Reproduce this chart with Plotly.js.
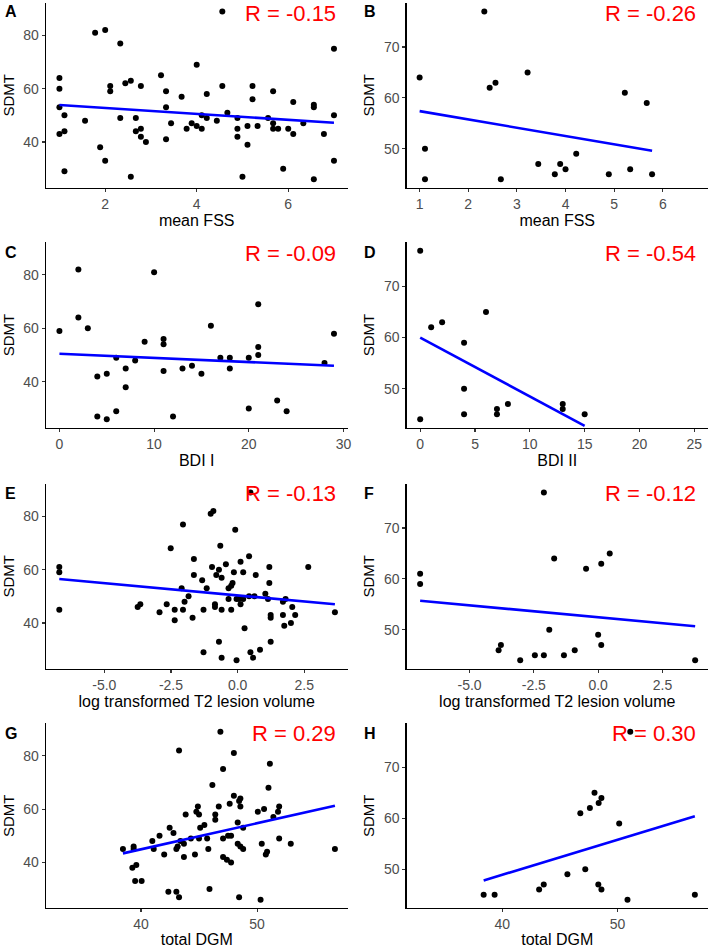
<!DOCTYPE html>
<html>
<head>
<meta charset="utf-8">
<script src="https://cdn.plot.ly/plotly-3.0.1.min.js"></script>
<style>html,body{margin:0;padding:0;background:#fff;}#chart{width:711px;height:948px;}</style>
</head>
<body>
<div id="chart"></div>
<script>
// ---- Data ----
// Panel A: mean FSS vs SDMT
const fssA = [1,1,1,1,1.11,1.11,1.11,1.56,1.78,2,1.89,2,2.11,2.11,2.33,2.33,2.44,2.56,2.56,2.78,2.67,2.67,2.78,2.78,2.89,3.22,3.33,3.33,3.33,3.44,3.67,3.78,3.89,4,4,4.11,4.11,4.22,4.22,4.44,4.56,4.56,4.67,4.89,4.89,4.89,5,5.11,5.11,5.22,5.22,5.33,5.56,5.67,5.67,5.67,5.78,5.89,6,6.11,6.11,6.33,6.56,6.56,6.56,6.78,7,7,7];
const sdmtA = [64,60,53,43,50,44,29,48,81,82,38,33,61,59,77,49,62,63,27,61,49,44,45,42,40,65,59,53,41,47,57,45,47,69,46,45,50,58,49,48,89,61,51,49,45,42,27,46,39,61,56,46,49,59,47,45,45,30,45,55,43,47,54,53,26,43,75,50,33];
const fitAx = [1, 7], fitAy = [53.9, 47.2];

// Panel B: mean FSS vs SDMT
const fssB = [1,1.11,1.11,2.33,2.44,2.56,2.67,3.22,3.44,3.78,3.89,4,4.22,4.89,5.22,5.33,5.67,5.78];
const sdmtB = [64,50,44,77,62,63,44,65,47,45,47,46,49,45,61,46,59,45];
const fitBx = [1, 5.78], fitBy = [57.4, 49.6];

// Panel C: BDI I vs SDMT
const bdiC = [0,2,2,3,4,4,5,5,6,6,7,7,8,9,10,11,11,11,12,13,14,15,16,17,18,18,20,20,21,21,21,23,24,28,29];
const sdmtC = [59,82,64,60,42,27,43,26,49,29,45,38,48,55,81,56,54,44,27,45,46,43,61,49,49,45,49,30,69,53,50,33,29,47,58];
const fitCx = [0, 29], fitCy = [50.5, 46.0];

// Panel D: BDI II vs SDMT
const bdiD = [0,0,1,2,4,4,4,6,7,7,8,13,13,15];
const sdmtD = [77,44,62,63,59,50,45,65,46,45,47,47,46,45];
const fitDx = [0, 15], fitDy = [60.0, 42.7];

// Panel E: log T2 lesion volume vs SDMT
const lesE = [-6.69,-6.69,-6.69,-3.75,-3.65,-2.93,-2.66,-2.51,-2.36,-2.36,-2.10,-2.05,-2.05,-1.99,-1.84,-1.69,-1.64,-1.64,-1.33,-1.28,-1.28,-1.16,-1.01,-0.91,-0.96,-0.85,-0.85,-0.80,-0.70,-0.70,-0.65,-0.60,-0.60,-0.60,-0.44,-0.34,-0.34,-0.24,-0.24,-0.19,-0.14,-0.09,-0.04,-0.04,0.06,0.11,0.11,0.21,0.21,0.26,0.43,0.43,0.48,0.48,0.58,0.63,0.68,0.84,1.04,1.14,1.19,1.19,1.24,1.24,1.24,1.70,1.70,1.75,1.80,2.0,2.05,2.16,2.65,3.65];
const sdmtE = [61,59,45,46,47,44,47,68,45,41,53,77,45,48,50,42,64,58,56,45,29,53,81,82,61,47,46,58,60,33,69,57,45,27,62,53,49,45,54,55,59,75,26,49,49,63,47,59,49,38,65,50,29,89,27,50,58,30,51,49,61,55,43,42,33,48,43,39,49,40,46,43,61,44];
const fitEx = [-6.69, 3.65], fitEy = [56.5, 47.0];

// Panel F: log T2 lesion volume vs SDMT
const lesF = [-6.92,-6.92,-3.87,-3.78,-3.03,-2.46,-2.11,-2.11,-1.9,-1.71,-1.33,-0.91,-0.47,0,0.12,0.12,0.45,3.77];
const sdmtF = [61,59,46,47,44,45,77,45,50,64,45,46,62,49,63,47,65,44];
const fitFx = [-6.92, 3.77], fitFy = [55.7, 50.7];

// Panel G: total DGM vs SDMT
const dgmG = [38.45,39.37,39.37,39.26,39.6,39.5,40.06,40.98,41.1,41.6,42.0,42.36,42.47,42.8,43.05,43.05,43.16,43.28,43.28,43.4,43.7,43.85,43.7,44.3,44.65,44.77,44.9,45.0,45.0,45.1,45.46,45.7,45.8,45.9,46.15,46.4,46.4,46.7,46.84,47.07,47.07,47.07,47.4,47.5,47.64,47.76,47.76,48.0,48.0,48.33,48.33,48.45,48.45,48.56,48.56,48.56,48.8,48.8,50.06,50.3,50.4,50.6,50.75,50.86,50.98,51.1,51.4,51.8,51.9,51.9,52.9,56.7];
const sdmtG = [45,46,45,38,39,33,33,48,45,50,43,29,53,51,29,45,46,27,82,48,47,58,42,49,43,59,61,58,49,53,54,49,45,30,69,58,56,61,89,49,42,75,41,50,62,40,50,81,65,47,55,63,27,64,61,46,45,53,59,26,47,60,43,44,68,77,57,59,61,49,47,45];
const fitGx = [38.45, 56.7], fitGy = [43.4, 61.25];

// Panel H: total DGM vs SDMT
const dgmH = [38.39,39.34,43.2,43.6,45.65,46.77,47.2,47.6,48.0,48.33,48.36,48.6,48.6,50.14,50.86,51.1,56.7];
const sdmtH = [45,45,46,47,49,61,50,62,65,47,63,64,46,59,44,77,45];
const fitHx = [38.39, 56.7], fitHy = [47.8, 60.4];

const letters = ['A','B','C','D','E','F','G','H'];
const rLabels = ['R = -0.15','R = -0.26','R = -0.09','R = -0.54','R = -0.13','R = -0.12','R = 0.29','R = 0.30'];
const xTitles = ['mean FSS','mean FSS','BDI I','BDI II','log transformed T2 lesion volume','log transformed T2 lesion volume','total DGM','total DGM'];
const yTitle = 'SDMT';

// ---- Layout geometry (pixels) ----
const W = 711, H = 948;
const colX = [[45.7, 347.7], [406.5, 708]];
const rowY = [[3, 187.7], [242.3, 427.7], [484, 668.7], [723.3, 908.2]];
const rLabelRight = [338, 698.3];
const rLabelMid = [13.5, 254, 494, 733.7];

const xs = [fssA, fssB, bdiC, bdiD, lesE, lesF, dgmG, dgmH];
const ys = [sdmtA, sdmtB, sdmtC, sdmtD, sdmtE, sdmtF, sdmtG, sdmtH];
const fx = [fitAx, fitBx, fitCx, fitDx, fitEx, fitFx, fitGx, fitHx];
const fy = [fitAy, fitBy, fitCy, fitDy, fitEy, fitFy, fitGy, fitHy];
const xRanges = [[0.7,7.3],[0.73,6.93],[-1.45,30.45],[-1.25,26.25],[-7.2,4.13],[-7.45,4.27],[31.8,57.8],[31.7,57.84]];
const yRangeL = [22.85, 92.15], yRangeR = [42.35, 78.65];
const xTickVals = [[2,4,6],[1,2,3,4,5,6],[0,10,20,30],[0,5,10,15,20,25],[-5,-2.5,0,2.5],[-5,-2.5,0,2.5],[40,50],[40,50]];
const xTickText = [['2','4','6'],['1','2','3','4','5','6'],['0','10','20','30'],['0','5','10','15','20','25'],['-5.0','-2.5','0.0','2.5'],['-5.0','-2.5','0.0','2.5'],['40','50'],['40','50']];
const yTickL = [40,60,80], yTickR = [50,60,70];

const FONT = '"Liberation Sans", Arial, Helvetica, sans-serif';
const traces = [];
const layout = {
  width: W, height: H,
  margin: {l:0, r:0, t:0, b:0},
  paper_bgcolor: '#fff', plot_bgcolor: '#fff',
  showlegend: false,
  font: {family: FONT, color: '#000'},
  annotations: []
};

for (let i = 0; i < 8; i++) {
  const col = i % 2, row = Math.floor(i / 2);
  const n = i + 1;
  const xa = n === 1 ? 'x' : 'x' + n, ya = n === 1 ? 'y' : 'y' + n;
  traces.push({
    type: 'scatter', mode: 'markers', x: xs[i], y: ys[i], xaxis: xa, yaxis: ya,
    marker: {color: '#000', size: 6}, hoverinfo: 'skip'
  });
  traces.push({
    type: 'scatter', mode: 'lines', x: fx[i], y: fy[i], xaxis: xa, yaxis: ya,
    line: {color: '#0000FF', width: 2.6}, hoverinfo: 'skip'
  });
  const axCommon = {
    showline: true, linecolor: '#000', linewidth: 1.1, mirror: false,
    ticks: 'outside', ticklen: 3, tickwidth: 1.1, tickcolor: '#333',
    showgrid: false, zeroline: false, automargin: false,
    tickfont: {family: FONT, size: 14, color: '#4D4D4D'}
  };
  layout['xaxis' + (n === 1 ? '' : n)] = Object.assign({}, axCommon, {
    domain: [colX[col][0] / W, colX[col][1] / W],
    anchor: ya, range: xRanges[i],
    tickmode: 'array', tickvals: xTickVals[i], ticktext: xTickText[i],
    title: {text: xTitles[i], font: {family: FONT, size: 16, color: '#000'}, standoff: 4}
  });
  layout['yaxis' + (n === 1 ? '' : n)] = Object.assign({}, axCommon, {
    domain: [1 - rowY[row][1] / H, 1 - rowY[row][0] / H],
    anchor: xa, range: col === 0 ? yRangeL : yRangeR,
    tickmode: 'array', tickvals: col === 0 ? yTickL : yTickR,
    title: {text: yTitle, font: {family: FONT, size: 15, color: '#000'}, standoff: 5}
  });
  // panel letter
  layout.annotations.push({
    xref: 'paper', yref: 'paper',
    x: (col === 0 ? 3 : 362) / W, y: 1 - (rowY[row][0] + 9 + (row > 0 ? 1 : 0)) / H,
    xanchor: 'left', yanchor: 'middle', showarrow: false,
    text: '<b>' + letters[i] + '</b>', font: {family: FONT, size: 16, color: '#000'}
  });
  // R label
  layout.annotations.push({
    xref: 'paper', yref: 'paper',
    x: rLabelRight[col] / W, y: 1 - rLabelMid[row] / H,
    xanchor: 'right', yanchor: 'middle', showarrow: false,
    text: rLabels[i], font: {family: FONT, size: 22, color: '#FF0000'}
  });
}

Plotly.newPlot('chart', traces, layout, {staticPlot: true, displayModeBar: false});
</script>
</body>
</html>
